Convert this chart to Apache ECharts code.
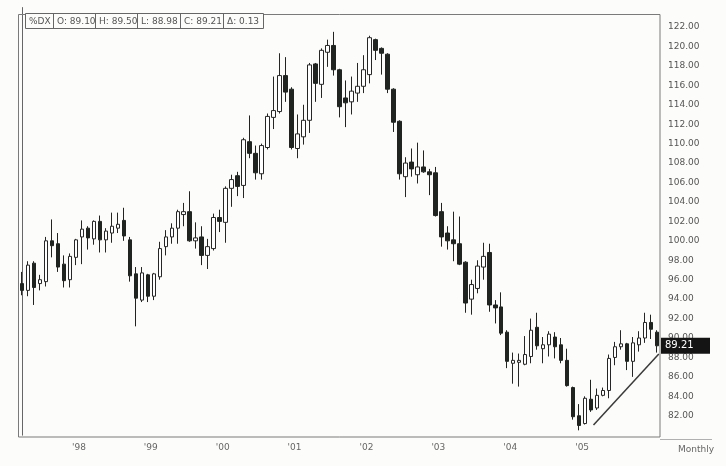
<!DOCTYPE html>
<html><head><meta charset="utf-8">
<script src="https://cdn.jsdelivr.net/npm/echarts@6/dist/echarts.min.js"></script>
<style>html,body{margin:0;padding:0;background:#fcfcfa;}#c{width:726px;height:466px;}</style>
</head><body><div id="c"></div>
<script>
// Monthly bars, March 1997 .. January 2006
const startYear = 1997, startMonth = 3, monthCount = 107;
const categories = [];
for (let i = 0; i < monthCount; i++) {
  const m = startMonth - 1 + i;
  const y = startYear + Math.floor(m / 12);
  const mm = (m % 12) + 1;
  categories.push(y + '-' + (mm < 10 ? '0' : '') + mm);
}
const labelMonths = ['1998-01','1999-01','2000-01','2001-01','2002-01','2003-01','2004-01','2005-01'];
const labelTexts  = ["'98","'99","'00","'01","'02","'03","'04","'05"];

const opens = [95.6,94.9,97.7,95.6,95.8,100.0,99.7,97.6,96.0,98.3,
  100.4,101.3,100.2,102.0,100.1,100.8,101.3,102.1,100.1,96.6,
  93.9,96.5,94.3,96.3,99.4,100.4,101.3,102.7,103.0,100.0,
  100.4,98.5,99.2,102.4,101.9,105.4,106.7,105.7,110.2,109.0,
  106.9,109.6,112.7,113.3,117.0,115.6,109.5,110.7,112.4,118.2,
  116.1,119.4,120.1,117.6,114.7,114.3,115.2,115.9,117.1,120.7,
  119.8,119.2,115.6,112.3,106.6,108.1,106.8,107.6,107.1,107.0,
  103.0,100.8,100.1,99.7,97.8,94.0,95.1,97.3,98.8,93.4,
  93.2,90.6,87.4,87.5,87.3,88.1,91.1,88.9,89.3,90.1,
  89.3,87.7,84.9,82.0,81.2,83.7,82.8,84.1,84.6,88.0,
  89.1,89.4,87.6,89.3,90.0,91.6,90.6];
const closes = [94.9,97.5,95.2,96.0,100.0,99.5,97.3,95.9,98.4,100.1,
  101.2,100.3,102.0,100.1,101.0,101.5,101.7,100.5,96.4,94.1,
  96.7,94.3,96.6,99.2,100.4,101.3,103.0,103.0,100.0,100.3,
  98.5,99.4,102.4,102.0,105.4,106.3,105.6,110.4,109.0,107.0,
  109.8,112.8,113.4,117.0,115.3,109.6,111.0,112.4,118.1,116.2,
  119.6,120.1,117.6,113.8,114.2,115.4,115.9,117.6,120.9,119.6,
  119.3,115.6,112.2,106.9,108.0,107.4,107.6,107.1,106.8,102.6,
  100.4,100.0,99.7,97.6,93.6,95.5,97.4,98.4,93.4,93.1,
  90.5,87.6,87.7,87.7,88.3,90.8,89.2,89.3,90.4,89.1,
  87.7,85.1,81.9,81.0,83.8,82.6,84.1,84.6,87.9,89.1,
  89.4,87.6,89.5,90.0,91.6,90.9,89.2];
const lows = [94.4,94.3,93.4,94.9,95.3,98.3,96.8,95.2,95.2,97.5,
  97.6,99.1,99.6,98.8,98.8,99.8,100.8,100.0,95.8,91.2,
  93.7,93.7,93.9,96.0,98.5,99.7,99.7,101.5,99.9,99.2,
  97.5,97.1,99.0,100.9,99.8,103.5,104.6,104.4,108.5,106.3,
  106.3,109.4,111.5,113.1,114.3,109.4,108.5,109.9,111.1,114.3,
  114.7,117.9,117.0,112.7,111.7,113.0,114.3,115.2,116.2,118.6,
  117.1,115.2,111.2,106.3,104.5,106.6,105.9,107.0,104.7,102.5,
  99.4,99.1,97.9,97.5,92.6,92.4,94.6,96.0,92.7,91.5,
  90.3,86.9,85.3,85.0,87.2,87.4,88.8,87.4,88.1,87.9,
  87.4,85.0,81.6,80.5,81.1,82.4,82.6,84.0,83.8,87.2,
  88.8,86.7,86.0,88.6,89.5,89.9,88.5];
const highs = [96.8,97.9,97.9,96.5,100.4,102.2,100.8,98.5,98.7,100.2,
  102.1,101.5,102.1,102.6,101.3,102.9,102.9,103.4,100.4,97.3,
  97.3,96.6,96.7,99.9,101.1,101.8,103.2,103.9,105.1,101.9,
  101.5,100.2,102.8,103.2,105.6,106.8,107.1,110.6,112.9,109.8,
  110.0,113.1,116.9,119.3,118.9,115.8,113.0,114.0,118.3,118.3,
  119.8,120.7,121.5,117.7,116.5,116.9,118.3,119.1,121.1,120.8,
  119.9,119.3,115.7,112.4,108.6,109.5,110.1,109.3,107.4,107.6,
  103.9,101.5,103.0,102.5,97.9,96.0,98.0,99.8,99.7,93.9,
  94.7,90.8,88.5,88.4,90.2,92.0,92.6,90.1,90.7,90.6,
  90.0,88.9,85.0,83.2,84.0,85.7,84.8,84.9,88.3,89.6,
  90.8,89.5,90.1,90.7,92.6,92.4,90.8];

// hand-drawn trend line: [bar position, value]
const trendLine = [[95.4, 81.05], [106.3, 88.35]];

const headerCells = ['%DX', 'O: 89.10', 'H: 89.50', 'L: 88.98', 'C: 89.21', '\u0394: 0.13'];
const lastPrice = 89.21;
const periodText = 'Monthly';

const candleData = opens.map((o, i) => [o, closes[i], lows[i], highs[i]]);
const FONT = 'DejaVu Sans';
const chart = echarts.init(document.getElementById('c'), null, {renderer: 'canvas'});

const cellEdges = [25, 53, 95, 137, 180, 223, 263];
const graphics = [];
graphics.push({type: 'rect', z: 10, shape: {x: 18.5, y: 14.5, width: 641.5, height: 422.5},
  style: {fill: 'none', stroke: '#7a7a7a', lineWidth: 1}});
graphics.push({type: 'line', z: 10, shape: {x1: 660, y1: 439.5, x2: 712, y2: 439.5},
  style: {stroke: '#b0b0b0', lineWidth: 1}});
graphics.push({type: 'rect', z: 11, shape: {x: cellEdges[0] + 0.5, y: 13.5, width: cellEdges[6] - cellEdges[0], height: 15},
  style: {fill: '#fcfcfa', stroke: '#666', lineWidth: 1}});
for (let i = 0; i < headerCells.length; i++) {
  if (i > 0) graphics.push({type: 'line', z: 12, shape: {x1: cellEdges[i] + 0.5, y1: 13.5, x2: cellEdges[i] + 0.5, y2: 28.5},
    style: {stroke: '#666', lineWidth: 1}});
  graphics.push({type: 'text', z: 12, style: {text: headerCells[i], x: cellEdges[i] + 4, y: 21.5,
    fill: '#555', font: '9px ' + FONT, textVerticalAlign: 'middle', verticalAlign: 'middle'}});
}
graphics.push({type: 'text', z: 12, style: {text: periodText, x: 678, y: 450, fill: '#666',
  font: '9px ' + FONT, textVerticalAlign: 'middle', verticalAlign: 'middle'}});

const option = {
  animation: false,
  backgroundColor: '#fcfcfa',
  grid: {left: 19, right: 66, top: 7.56, bottom: 30.8},
  xAxis: [{
    type: 'category', data: categories, boundaryGap: true,
    axisLine: {show: false}, axisTick: {show: false}, splitLine: {show: false},
    axisLabel: {
      interval: (idx, val) => labelMonths.indexOf(val) >= 0,
      formatter: v => { const k = labelMonths.indexOf(v); return k >= 0 ? labelTexts[k] : ''; },
      margin: 8, color: '#666', fontSize: 9, fontFamily: FONT, padding: [0, 6, 0, 0]
    }
  }, {
    type: 'value', min: -0.5, max: monthCount - 0.5, show: false
  }],
  yAxis: {
    type: 'value', position: 'right', min: 80, max: 124, interval: 2, scale: true,
    axisLine: {show: true, lineStyle: {color: '#666'}}, axisTick: {show: false}, splitLine: {show: false},
    axisLabel: {margin: 8, color: '#555', fontSize: 9, fontFamily: FONT,
      formatter: v => (v <= 80 || v >= 124) ? '' : v.toFixed(2)}
  },
  series: [{
    type: 'candlestick', data: candleData, barWidth: 4,
    itemStyle: {color: '#ffffff', color0: '#1f2420', borderColor: '#262626', borderColor0: '#1f2420', borderWidth: 1}
  }, {
    type: 'line', xAxisIndex: 1, data: trendLine, symbol: 'none', silent: true,
    lineStyle: {color: '#3a3a3a', width: 1.5}
  }],
  graphic: graphics
};
chart.setOption(option);

const py = chart.convertToPixel({yAxisIndex: 0}, lastPrice);
chart.setOption({graphic: graphics.concat([
  {type: 'rect', z: 13, shape: {x: 661, y: py - 8, width: 49, height: 16}, style: {fill: '#141414'}},
  {type: 'text', z: 14, style: {text: lastPrice.toFixed(2), x: 665, y: py, fill: '#ffffff',
    font: '10px ' + FONT, textVerticalAlign: 'middle', verticalAlign: 'middle'}}
])});
</script></body></html>
